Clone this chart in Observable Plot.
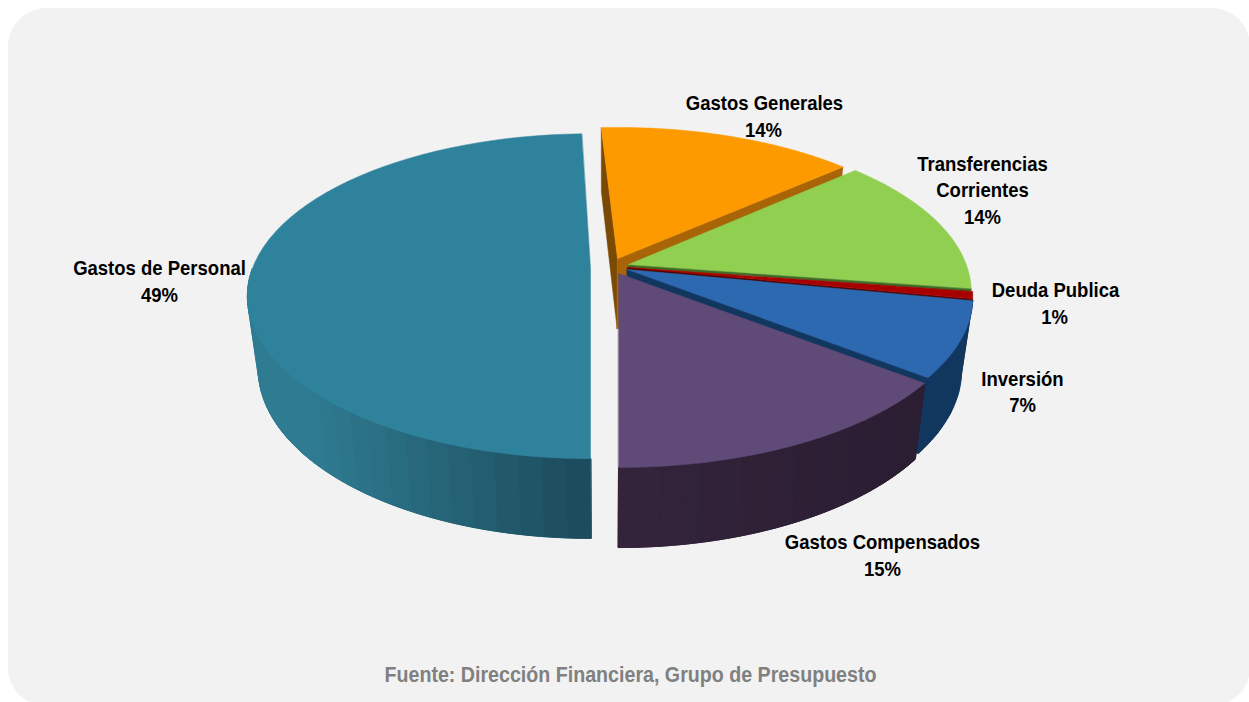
<!DOCTYPE html>
<html><head><meta charset="utf-8">
<script src="https://cdn.jsdelivr.net/npm/d3@7"></script>
<script src="https://cdn.jsdelivr.net/npm/@observablehq/plot@0.6"></script>
<style>
html,body{margin:0;padding:0;background:#fff;width:1249px;height:702px;overflow:hidden}
#panel{position:absolute;left:8px;top:8px;width:1242px;height:698px;background:#f2f2f2;border-radius:38px}
#chart{position:absolute;left:0;top:0}
svg{background:transparent!important;display:block}
</style></head><body>
<div id="panel"></div><div id="chart"></div>
<script>
const categories = ["Gastos Generales","Transferencias Corrientes","Deuda Publica","Inversión","Gastos Compensados","Gastos de Personal"];
const shares = [14.3, 13.9, 0.7, 7.4, 14.5, 49.0];
const labels = ["14%","14%","1%","7%","15%","49%"];
const topColors = ["#fd9a00","#90cf50","#a80000","#2c69b0","#604a78","#2f829c"];
const wallColors = ["#a86406","#3f6a28","#4a0505","#12375f","#2f2036","#1d4f60"];
const sideLight = ["#a86406","#3f6a28","#4a0505","#12375f","#33243b","#2f7c92"];
const sideDark = ["#a86406","#3f6a28","#4a0505","#12375f","#2b1d32","#1b4a5b"];
const apexX = [617,628,627,627,618,590];
const apexY = [258,264,267,269,273,268];
const scaleX = [.96,.965,.972,.972,.99,.966];
const scaleY = [.93,.955,.96,.96,.975,.956];

const total = d3.sum(shares);
const startDeg = 180 - d3.sum(shares.slice(0,5))/total*360;
const R=350,A=165,K=.1706;
function rim(i,deg){
  const t=deg*Math.PI/180,u=Math.sin(t),v=Math.cos(t),w=1+K*v;
  return [apexX[i]+scaleX[i]*R*u/w, apexY[i]-scaleY[i]*A*v/w];
}
const drop=(p)=>[ 605+(p[0]-605)*.97, p[1]+72+.047*(p[1]-295)];
const polys=[],bands=[];let id=0;
function poly(pts,color,out=polys){const k=id++;pts.forEach(p=>out.push({x:p[0],y:p[1],k,color}));}
let a=startDeg;
const spans=shares.map(s=>{const b=a+s/total*360;const r=[a,b];a=b;return r;});
spans[5][1]+=1.5;
const arc=(i,a0,a1)=>d3.range(0,61).map(j=>rim(i,a0+(a1-a0)*j/60));
const mix=(i,t)=>d3.interpolateRgb(sideLight[i],sideDark[i])(Math.max(0,Math.min(1,t)));

function side(i,a0,a1,n,bias,out){
  const whole=arc(i,a0,a1);
  poly([...whole,...whole.map(drop).reverse()],mix(i,.5),out);
  for(let j=0;j<n;j++){
    const s=a0+(a1-a0)*j/n,e=a0+(a1-a0)*(j+1)/n;
    const upper=[rim(i,s),rim(i,(s+e)/2),rim(i,e)];
    const lower=upper.map(drop).reverse();
    poly([...upper,...lower],mix(i,bias(upper[1][0])),out);
  }
}
function wall(i,deg,color,out){
  const ap=[apexX[i],apexY[i]],r=rim(i,deg);
  poly([ap,r,drop(r),drop(ap)],color,out);
}
const under=[];
wall(0,spans[0][0],"#7a4a04",under);
wall(0,spans[0][1],wallColors[0],under);
side(5,180,spans[5][0]+90,26,x=>(x-300)/290,bands);
wall(3,spans[3][1],wallColors[3],bands);
side(3,spans[3][0],spans[3][1],2,x=>0,bands);
side(4,spans[4][0],spans[4][1],18,x=>(x-640)/260,bands);
function face(i){
  const ap=[apexX[i],apexY[i]];
  const [a0,a1]=spans[i];
  poly([ap,...arc(i,a0,a1)],topColors[i]);
}
function strip(i,deg,h,color){
  const ap=[apexX[i],apexY[i]],r=rim(i,deg);
  poly([ap,r,[r[0],r[1]+h],[ap[0],ap[1]+h*.7]],color);
}
face(0);
strip(1,spans[1][1],3.5,wallColors[1]);
face(1);
strip(2,spans[2][1],3,wallColors[2]);
face(2);
strip(3,spans[3][1],8,wallColors[3]);
face(3);
face(4);
face(5);

const labelRows=[
 {t:"Gastos Generales",x:764,y:103},{t:labels[0],x:763,y:130},
 {t:"Transferencias",x:982,y:164},{t:"Corrientes",x:982,y:190},{t:labels[1],x:982,y:217},
 {t:categories[2],x:1055,y:290},{t:labels[2],x:1054,y:317},
 {t:categories[3],x:1022,y:379},{t:labels[3],x:1022,y:405},
 {t:categories[4],x:882,y:542},{t:labels[4],x:882,y:569},
 {t:categories[5],x:159,y:268},{t:labels[5],x:159,y:295}
];
const source=[{t:"Fuente: Dirección Financiera, Grupo de Presupuesto",x:630,y:675}];

const chart=Plot.plot({
  width:1249,height:702,margin:0,
  x:{domain:[0,1249],range:[0,1249],axis:null},
  y:{domain:[702,0],range:[702,0],axis:null},
  style:{background:"transparent"},
  marks:[
    Plot.line(under,{x:"x",y:"y",z:"k",fill:"color",stroke:"color",strokeWidth:.5,curve:"linear-closed"}),
    Plot.line(bands,{x:"x",y:"y",z:"k",fill:"color",stroke:"color",strokeWidth:.9,curve:"linear-closed"}),
    Plot.line(polys,{x:"x",y:"y",z:"k",fill:"color",stroke:"color",strokeWidth:.5,curve:"linear-closed"}),
    Plot.text(labelRows,{x:"x",y:"y",text:"t",fontFamily:"Liberation Sans",fontWeight:"bold",fontSize:21,fill:"#000"}),
    Plot.text(source,{x:"x",y:"y",text:"t",fontFamily:"Liberation Sans",fontWeight:"bold",fontSize:21.5,fill:"#808080"})
  ]
});
document.getElementById("chart").append(chart);
chart.querySelectorAll("text").forEach(el=>{
  const len=el.getComputedTextLength();
  const isSource=el.textContent.startsWith("Fuente");
  el.setAttribute("textLength",(isSource?492:len*.881).toFixed(1));
  el.setAttribute("lengthAdjust","spacingAndGlyphs");
});
</script></body></html>
